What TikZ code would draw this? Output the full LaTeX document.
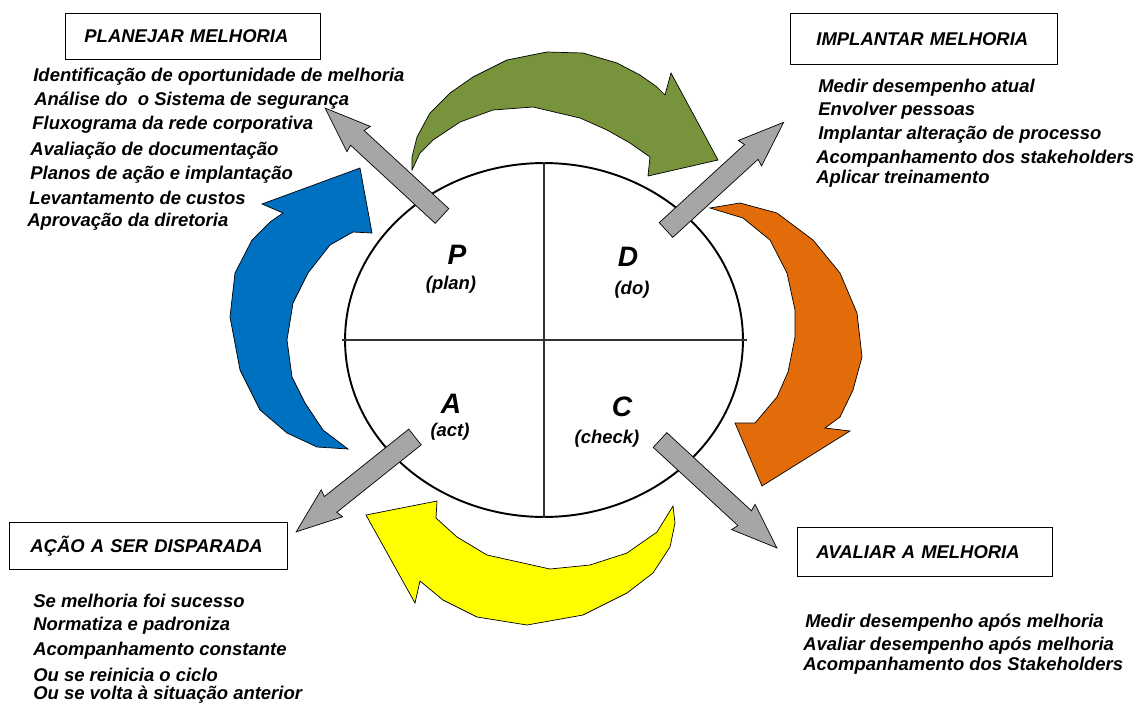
\documentclass[tikz,border=0pt]{standalone}
\usepackage{fontspec}
\setmainfont{Liberation Sans}
\usepackage{tikz}
\usetikzlibrary{shapes.geometric, calc}
\definecolor{verde}{HTML}{77933C}
\definecolor{azul}{HTML}{0070C0}
\definecolor{laranja}{HTML}{E36C0A}
\definecolor{amarelo}{HTML}{FFFF00}
\definecolor{cinza}{HTML}{A6A6A6}
\tikzstyle{caixa}=[draw, rectangle, inner sep=0pt, align=left, anchor=north west, line width=0.5pt, font=\fontsize{10.5}{12}\selectfont\bfseries\itshape]
\tikzstyle{item}=[inner sep=0pt, anchor=base west, font=\fontsize{10.5}{12}\selectfont\bfseries\itshape]
\tikzstyle{letra}=[inner sep=0pt, font=\fontsize{16}{19}\selectfont\bfseries\itshape]
\tikzstyle{sub}=[inner sep=0pt, font=\fontsize{10.5}{12}\selectfont\bfseries\itshape]
\tikzstyle{seta}=[draw, fill=cinza, line width=0.4pt, line join=miter]
\tikzstyle{curva}=[draw, line width=0.4pt]
\newcommand{\setacinza}[2]{%
  \draw[seta] let \p1=($(#2)-(#1)$), \n1={atan2(\y1,\x1)}, \n2={veclen(\x1,\y1)} in
    [shift={(#1)}, rotate=\n1] (0pt,-5.7pt) -- (\n2-25pt,-5.7pt) -- (\n2-26pt,-9.8pt) -- (\n2,0pt)
    -- (\n2-26pt,9.8pt) -- (\n2-25pt,5.7pt) -- (0pt,5.7pt) -- cycle;}

\begin{document}
\begin{tikzpicture}[x=0.02cm, y=-0.02cm]
	\useasboundingbox (0,0) rectangle (1140,704);

	\filldraw[curva, fill=verde] (412,170) -- (412,157) -- (417,137) -- (430,113) -- (450,93) -- (473,77) -- (507,60) -- (547,52) -- (583,53) -- (617,63) -- (640,75) -- (657,87) -- (665,95) -- (671,73) -- (718,160) -- (648,176) -- (650,157) -- (630,143) -- (607,130) -- (580,118) -- (533,107) -- (493,110) -- (460,122) -- (433,140) -- (420,153) -- cycle;
	\filldraw[curva, fill=laranja] (710,208) -- (740,203) -- (777,213) -- (813,240) -- (840,273) -- (857,313) -- (862,357) -- (853,390) -- (840,417) -- (825,428) -- (850,431) -- (762,486) -- (735,423) -- (755,423) -- (777,397) -- (788,372) -- (795,337) -- (795,310) -- (787,273) -- (770,240) -- (743,218) -- cycle;
	\filldraw[curva, fill=amarelo] (673,506) -- (675,523) -- (670,547) -- (653,573) -- (627,593) -- (583,615) -- (527,625) -- (477,617) -- (443,600) -- (420,581) -- (415,603) -- (366,515) -- (437,501) -- (436,518) -- (457,537) -- (487,555) -- (550,569) -- (590,565) -- (627,553) -- (657,532) -- cycle;
	\filldraw[curva, fill=azul] (348,449) -- (317,447) -- (287,433) -- (260,410) -- (240,370) -- (230,317) -- (235,273) -- (252,240) -- (270,222) -- (283,213) -- (262,204) -- (360,168) -- (372,233) -- (353,232) -- (330,245) -- (308,273) -- (293,303) -- (287,340) -- (292,377) -- (305,403) -- (323,430) -- cycle;

	\node[ellipse, draw, line width=1.1pt, minimum width=7.96cm, minimum height=7.08cm, inner sep=0pt] (ciclo) at (544,340) {};
	\draw[black!80, line width=0.7pt] (ciclo.north) -- (ciclo.south);
	\draw[black!80, line width=0.7pt] ($(ciclo.west)+(-2,0)$) -- ($(ciclo.east)+(3,0)$);

	\node[letra] (P) at (457,255) {P};
	\node[sub] (plan) at (451,285) {(plan)};
	\node[letra] (D) at (628,257) {D};
	\node[sub] (do) at (632,290) {(do)};
	\node[letra] (A) at (451,404) {A};
	\node[sub] (act) at (450,432) {(act)};
	\node[letra] (C) at (622,407) {C};
	\node[sub] (check) at (607,439) {(check)};

	\coordinate (plT) at (442,216);
	\coordinate (plH) at (325,108);
	\coordinate (doT) at (666,230);
	\coordinate (doH) at (784,122);
	\coordinate (ckT) at (660,440);
	\coordinate (ckH) at (777,548);
	\coordinate (acT) at (415,437);
	\coordinate (acH) at (296,532);
	\setacinza{plT}{plH}
	\setacinza{doT}{doH}
	\setacinza{ckT}{ckH}
	\setacinza{acT}{acH}

	\node[caixa, text width=5.10cm, minimum height=0.92cm] (planejar) at (65,13) {\hspace*{0.38cm}PLANEJAR MELHORIA};
	\node[caixa, text width=5.34cm, minimum height=1.02cm] (implantar) at (790,13) {\hspace*{0.52cm}IMPLANTAR MELHORIA};
	\node[caixa, text width=5.56cm, minimum height=0.94cm] (acao) at (9,522) {\hspace*{0.42cm}AÇÃO A SER DISPARADA};
	\node[caixa, text width=5.10cm, minimum height=0.98cm] (avaliar) at (797,527) {\hspace*{0.38cm}AVALIAR A MELHORIA};

	\foreach \x/\y/\t in {33/81/Identificação de oportunidade de melhoria, 34/105/Análise do~~o Sistema de segurança, 32/129/Fluxograma da rede corporativa, 30/155/Avaliação de documentação, 30/179/Planos de ação e implantação, 29/204/Levantamento de custos, 27/226/Aprovação da diretoria}
		\node[item] (pl\y) at (\x,\y) {\t};
	\foreach \x/\y/\t in {818/92/Medir desempenho atual, 818/115/Envolver pessoas, 818/139/Implantar alteração de processo, 816/163/Acompanhamento dos stakeholders, 816/183/Aplicar treinamento}
		\node[item] (im\y) at (\x,\y) {\t};
	\foreach \x/\y/\t in {33/607/Se melhoria foi sucesso, 33/630/Normatiza e padroniza, 33/655/Acompanhamento constante, 33/681/Ou se reinicia o ciclo, 33/699/Ou se volta à situação anterior}
		\node[item] (ac\y) at (\x,\y) {\t};
	\foreach \x/\y/\t in {805/627/Medir desempenho após melhoria, 803/650/Avaliar desempenho após melhoria, 803/670/Acompanhamento dos Stakeholders}
		\node[item] (av\y) at (\x,\y) {\t};
\end{tikzpicture}
\end{document}
